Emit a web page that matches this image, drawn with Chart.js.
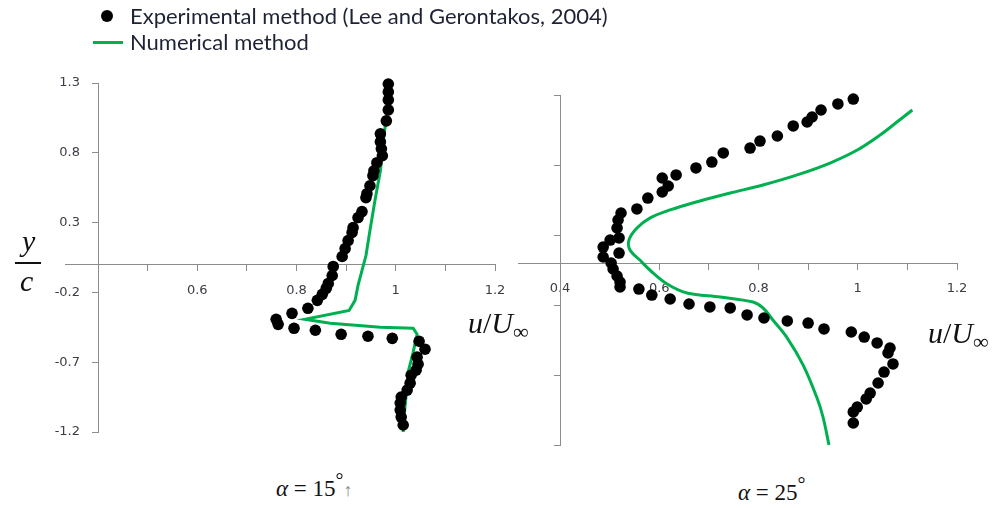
<!DOCTYPE html>
<html>
<head>
<meta charset="utf-8">
<script src="https://cdn.jsdelivr.net/npm/chart.js@4"></script>
<style>
  body { margin: 0; background: #fff; }
  #wrap { position: relative; width: 995px; height: 508px; overflow: hidden; }
  canvas { position: absolute; }
  .txt { position: absolute; white-space: nowrap; color: #1e2235; }
  .leg { font-family: Lato, sans-serif; font-size: 22px; line-height: 26px; }
  .math { font-family: "Liberation Serif", serif; color: #111; }
</style>
</head>
<body>
<div id="wrap">
  <canvas id="left" width="510" height="470" style="left:0;top:0"></canvas>
  <canvas id="right" width="495" height="470" style="left:500px;top:0"></canvas>

  <div style="position:absolute;left:101px;top:10px;width:12px;height:12px;border-radius:50%;background:#000"></div>
  <div class="txt leg" style="left:130px;top:3px">Experimental method (Lee and Gerontakos, 2004)</div>
  <div style="position:absolute;left:93px;top:41px;width:30px;height:3px;background:#00b050"></div>
  <div class="txt leg" style="left:130px;top:29px">Numerical method</div>

  <div class="txt math" style="left:22px;top:224px;font-size:30px;font-style:italic">y</div>
  <div style="position:absolute;left:15px;top:262px;width:26px;height:2px;background:#111"></div>
  <div class="txt math" style="left:20px;top:264px;font-size:30px;font-style:italic">c</div>

  <div class="txt math" style="left:468px;top:306px;font-size:30px"><i>u</i>/<i>U</i><span style="font-size:22px;position:relative;top:6px">∞</span></div>
  <div class="txt math" style="left:928px;top:316px;font-size:30px"><i>u</i>/<i>U</i><span style="font-size:22px;position:relative;top:6px">∞</span></div>

  <div class="txt math" style="left:276px;top:476px;font-size:23px"><i>α</i> = 15<span style="position:relative;top:-9px;font-size:20px">°</span><span style="color:#888;font-size:18px">↑</span></div>
  <div class="txt math" style="left:738px;top:480px;font-size:23px"><i>α</i> = 25<span style="position:relative;top:-9px;font-size:20px">°</span></div>
</div>

<script>
// axis ticks
const yTicks = [-1.2, -0.7, -0.2, 0.3, 0.8, 1.3];
const xTicks = [0.4, 0.5, 0.6, 0.7, 0.8, 0.9, 1.0, 1.1, 1.2];
const xLabels15 = [0.6, 0.8, 1.0, 1.2];
const xLabels25 = [0.4, 0.6, 0.8, 1.0, 1.2];

// alpha = 15 deg, experiment [u/U, y/c]
const exp15 = [
  [0.985, 1.293], [0.985, 1.236], [0.985, 1.179], [0.985, 1.107], [0.981, 1.029],
  [0.969, 0.936], [0.969, 0.879], [0.971, 0.829], [0.973, 0.779], [0.962, 0.729],
  [0.956, 0.671], [0.954, 0.636], [0.948, 0.564], [0.942, 0.507], [0.940, 0.479],
  [0.932, 0.379], [0.924, 0.336], [0.914, 0.264], [0.912, 0.229], [0.904, 0.171],
  [0.898, 0.114], [0.892, 0.057], [0.874, -0.014], [0.872, -0.079], [0.864, -0.136],
  [0.860, -0.171], [0.852, -0.214], [0.842, -0.257], [0.823, -0.314], [0.791, -0.350],
  [0.759, -0.393], [0.763, -0.429], [0.795, -0.457], [0.838, -0.471], [0.890, -0.500],
  [0.944, -0.514], [0.993, -0.529], [1.047, -0.550], [1.059, -0.607], [1.043, -0.664],
  [1.045, -0.714], [1.041, -0.757], [1.031, -0.793], [1.029, -0.850], [1.023, -0.900],
  [1.011, -0.950], [1.009, -0.993], [1.009, -1.043], [1.011, -1.093], [1.015, -1.150]
];

// alpha = 15 deg, numerical
const num15 = [
  [0.981, 1.057], [0.975, 0.886], [0.969, 0.671], [0.958, 0.457], [0.948, 0.243],
  [0.940, 0.064], [0.932, -0.043], [0.924, -0.150], [0.918, -0.257], [0.906, -0.329],
  [0.817, -0.393], [0.868, -0.421], [0.969, -0.450], [1.035, -0.457], [1.043, -0.500],
  [1.035, -0.629], [1.025, -0.771], [1.021, -0.936], [1.017, -1.079], [1.015, -1.200]
];

// alpha = 25 deg, experiment
const exp25 = [
  [0.991, 1.271], [0.960, 1.236], [0.926, 1.193], [0.908, 1.143], [0.898, 1.107],
  [0.870, 1.079], [0.838, 1.007], [0.803, 0.971], [0.783, 0.921], [0.729, 0.886],
  [0.706, 0.821], [0.674, 0.779], [0.634, 0.729], [0.606, 0.707], [0.618, 0.650],
  [0.606, 0.607], [0.577, 0.564], [0.555, 0.486], [0.523, 0.457], [0.517, 0.407],
  [0.515, 0.350], [0.519, 0.279], [0.501, 0.264], [0.487, 0.214], [0.519, 0.171],
  [0.487, 0.143], [0.503, 0.100], [0.507, 0.057], [0.515, 0.007], [0.521, -0.036],
  [0.521, -0.071], [0.559, -0.086], [0.585, -0.129], [0.622, -0.157], [0.660, -0.193],
  [0.702, -0.214], [0.743, -0.221], [0.777, -0.271], [0.811, -0.293], [0.858, -0.314],
  [0.900, -0.329], [0.932, -0.371], [0.987, -0.393], [1.013, -0.429], [1.039, -0.471],
  [1.065, -0.507], [1.061, -0.543], [1.071, -0.621], [1.053, -0.679], [1.041, -0.757],
  [1.025, -0.829], [1.017, -0.871], [0.999, -0.929], [0.991, -0.964], [0.991, -1.043]
];

// alpha = 25 deg, numerical
const num25 = [
  [1.110, 1.193], [1.079, 1.107], [1.045, 1.014], [0.999, 0.907], [0.944, 0.814],
  [0.878, 0.729], [0.809, 0.657], [0.743, 0.600], [0.682, 0.543], [0.622, 0.479],
  [0.581, 0.421], [0.555, 0.350], [0.539, 0.264], [0.541, 0.193], [0.561, 0.121],
  [0.581, 0.050], [0.616, -0.050], [0.656, -0.114], [0.723, -0.143], [0.789, -0.179],
  [0.809, -0.221], [0.829, -0.307], [0.858, -0.436], [0.890, -0.629], [0.918, -0.864],
  [0.930, -1.000], [0.942, -1.200]
];

const axisGray = '#8c8c8c';
const tickFont = { family: "'DejaVu Sans', sans-serif", size: 13 };

// horizontal axis continues a little to the left of the vertical one
const axisStub = {
    id: 'axisStub',
    beforeDatasetsDraw(chart, args, opts) {
        const ctx = chart.ctx;
        const y = Math.round(chart.scales.y.getPixelForValue(opts.at)) + 0.5;
        ctx.save();
        ctx.strokeStyle = axisGray;
        ctx.lineWidth = 1;
        ctx.beginPath();
        ctx.moveTo(chart.chartArea.left - opts.len, y);
        ctx.lineTo(chart.chartArea.left, y);
        ctx.stroke();
        ctx.restore();
    }
};

function toXY(arr) {
    return arr.map(p => ({ x: p[0], y: p[1] }));
}

function renderPanel(id, exp, num, cfg) {
    new Chart(document.getElementById(id), {
        type: 'scatter',
        data: {
            datasets: [
                {
                    label: 'Numerical method',
                    data: toXY(num),
                    showLine: true,
                    borderColor: '#00b050',
                    borderWidth: 3,
                    pointRadius: 0,
                    tension: cfg.tension,
                    order: 2
                },
                {
                    label: 'Experimental method (Lee and Gerontakos, 2004)',
                    data: toXY(exp),
                    backgroundColor: '#000',
                    borderWidth: 0,
                    pointRadius: 5.8,
                    order: 1
                }
            ]
        },
        options: {
            responsive: false,
            animation: false,
            clip: false,
            layout: { padding: cfg.padding },
            plugins: {
                legend: { display: false },
                tooltip: { enabled: false },
                axisStub: { at: cfg.cross, len: cfg.stub }
            },
            scales: {
                x: {
                    type: 'linear',
                    position: { y: cfg.cross },
                    min: 0.4,
                    max: 1.2,
                    afterBuildTicks: s => { s.ticks = xTicks.map(v => ({ value: v })); },
                    afterFit: s => { s.height = 0; s.paddingLeft = 0; s.paddingRight = 0; },
                    grid: { drawOnChartArea: false, color: axisGray, tickLength: 6 },
                    border: { color: axisGray },
                    ticks: {
                        padding: 12,
                        maxRotation: 0,
                        autoSkip: false,
                        color: '#3c3c46',
                        font: tickFont,
                        callback: v => {
                            const hit = cfg.xLabels.some(l => Math.abs(l - v) < 1e-6);
                            if (!hit) return '';
                            return Math.abs(v - 1) < 1e-6 ? '1' : v.toFixed(1);
                        }
                    }
                },
                y: {
                    type: 'linear',
                    position: 'left',
                    min: -1.2,
                    max: 1.3,
                    afterBuildTicks: s => { s.ticks = yTicks.map(v => ({ value: v })); },
                    afterFit: s => { s.width = 58; s.paddingTop = 0; s.paddingBottom = 0; },
                    grid: { drawOnChartArea: false, color: axisGray, tickLength: 6 },
                    border: { color: axisGray },
                    ticks: {
                        display: cfg.yLabels,
                        padding: 12,
                        color: '#3c3c46',
                        font: tickFont,
                        callback: v => v.toFixed(1)
                    }
                }
            }
        },
        plugins: [axisStub]
    });
}

document.addEventListener('DOMContentLoaded', () => {
    renderPanel('left', exp15, num15, {
        padding: { left: 40, top: 83, right: 15, bottom: 38 },
        cross: 0, stub: 33, xLabels: xLabels15, yLabels: true, tension: 0
    });
    renderPanel('right', exp25, num25, {
        padding: { left: 2, top: 95, right: 38, bottom: 25 },
        cross: 0.1, stub: 42, xLabels: xLabels25, yLabels: false, tension: 0.35
    });
});
</script>
</body>
</html>
